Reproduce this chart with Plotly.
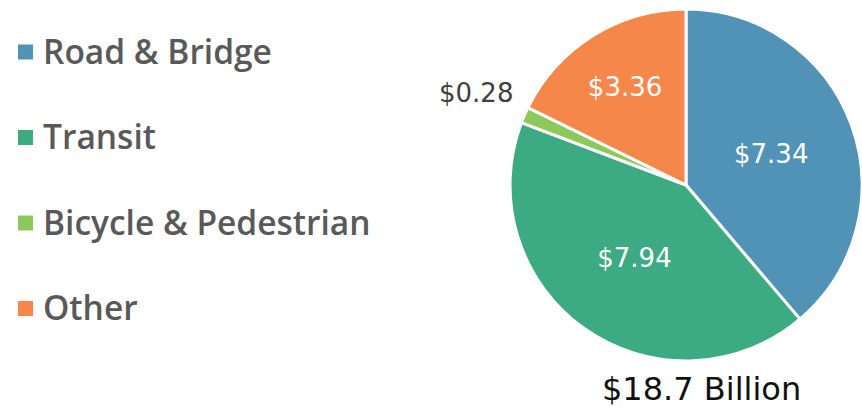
import plotly.graph_objects as go

categories = ["Road & Bridge", "Transit", "Bicycle & Pedestrian", "Other"]
values = [7.34, 7.94, 0.28, 3.36]
value_labels = ["$7.34", "$7.94", "$0.28", "$3.36"]
colors = ["#5093b6", "#3cab84", "#8cc85a", "#f5874a"]
total_label = "$18.7 Billion"

W, H = 862, 407
cx, cy, r = 686, 185, 176
FONT = "DejaVu Sans"
LEGEND_FONT = "Open Sans"

fig = go.Figure()
fig.add_trace(go.Pie(
    labels=categories,
    values=values,
    text=value_labels,
    textinfo="text",
    textposition=["inside", "inside", "none", "inside"],
    insidetextorientation="horizontal",
    sort=False,
    direction="clockwise",
    rotation=0,
    marker=dict(colors=colors, line=dict(color="white", width=3)),
    insidetextfont=dict(family=FONT, size=26, color="white"),
    domain=dict(x=[(cx - r) / W, (cx + r) / W], y=[(H - cy - r) / H, (H - cy + r) / H]),
    showlegend=False,
    hoverinfo="label+text",
))

# small slice label placed outside, to the upper left
fig.add_annotation(text=value_labels[2], xref="paper", yref="paper",
                   x=476 / W, y=(H - 93) / H, xanchor="center", yanchor="middle",
                   showarrow=False, font=dict(family=FONT, size=26, color="#404040"))

# Legend drawn as squares + text
legend_y = [50.5, 136, 221.5, 307]
for cat, col, yy in zip(categories, colors, legend_y):
    fig.add_shape(type="rect", xref="paper", yref="paper",
                  x0=18 / W, x1=33 / W, y0=(H - yy - 9) / H, y1=(H - yy + 6) / H,
                  fillcolor=col, line=dict(width=0))
    fig.add_annotation(text=cat, xref="paper", yref="paper",
                       x=41 / W, y=(H - yy) / H, xanchor="left", yanchor="middle",
                       showarrow=False,
                       font=dict(family=LEGEND_FONT, size=33.5, color="#595959", weight=600))

fig.add_annotation(text=total_label, xref="paper", yref="paper",
                   x=701.5 / W, y=(H - 389) / H, xanchor="center", yanchor="middle",
                   showarrow=False,
                   font=dict(family=FONT, size=32, color="#111111"))

fig.update_layout(
    width=W, height=H,
    margin=dict(l=0, r=0, t=0, b=0),
    paper_bgcolor="white",
    plot_bgcolor="white",
)

fig.write_html("out.html", config={"displayModeBar": False},
               post_script="document.body.style.margin='0';")
